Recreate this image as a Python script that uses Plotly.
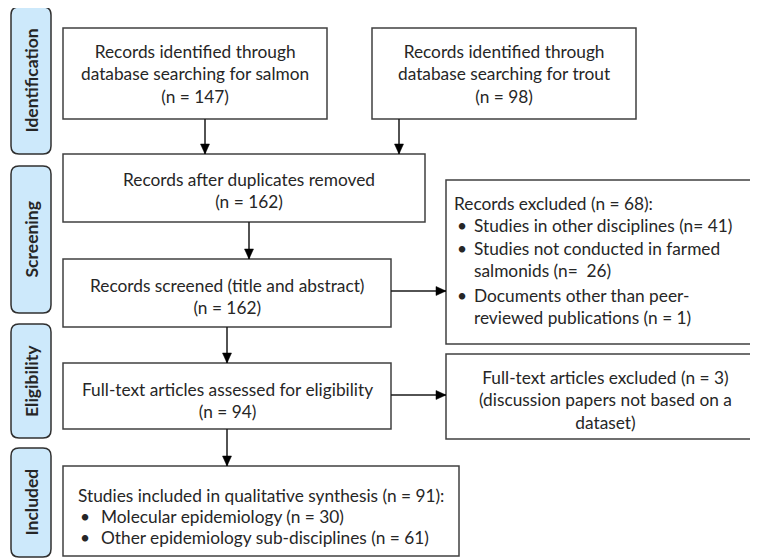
import plotly.graph_objects as go

W, H = 758, 559
OFF = 8  # page body margin, so data coordinates equal window pixels

# ---- data (stages and counts) ----
stages = ["Identification", "Screening", "Eligibility", "Included"]
n_salmon = 147
n_trout = 98
n_after_dupes = 162
n_screened = 162
n_excluded_screen = 68
excl_reasons = ["Studies in other disciplines", "Studies not conducted in farmed salmonids",
                "Documents other than peer-reviewed publications"]
excl_counts = [41, 26, 1]
n_fulltext = 94
n_fulltext_excl = 3
n_included = 91
incl_groups = ["Molecular epidemiology", "Other epidemiology sub-disciplines"]
incl_counts = [30, 61]

FONT = "Lato"
FS = 17.3
TXT = "#262626"
BORDER = "#404040"

shapes = []
annos = []

def box(x0, y0, x1, y1):
    shapes.append(dict(type="rect", x0=x0, y0=y0, x1=x1, y1=y1,
                       line=dict(color=BORDER, width=1.5), fillcolor="white", layer="below"))

def rbox(x0, y0, x1, y1, r=8):
    p = (f"M{x0+r},{y0} L{x1-r},{y0} Q{x1},{y0} {x1},{y0+r} L{x1},{y1-r} Q{x1},{y1} {x1-r},{y1} "
         f"L{x0+r},{y1} Q{x0},{y1} {x0},{y1-r} L{x0},{y0+r} Q{x0},{y0} {x0+r},{y0} Z")
    shapes.append(dict(type="path", path=p, line=dict(color="#303030", width=1.5),
                       fillcolor="#cde9fb", layer="below"))

def arrow(x0, y0, x1, y1):
    shapes.append(dict(type="line", x0=x0, y0=y0, x1=x1, y1=y1,
                       line=dict(color="#1a1a1a", width=1.5)))
    L, hw = 10, 4.5
    if x0 == x1:  # vertical, pointing down
        p = f"M{x1},{y1} L{x1-hw},{y1-L} L{x1+hw},{y1-L} Z"
    else:  # horizontal, pointing right
        p = f"M{x1},{y1} L{x1-L},{y1-hw} L{x1-L},{y1+hw} Z"
    shapes.append(dict(type="path", path=p, line=dict(color="black", width=0.5),
                       fillcolor="black"))

def text(x, y, s, anchor="center", size=FS, bold=False, angle=0):
    annos.append(dict(x=x, y=y, xref="x", yref="y", text=(f"<b>{s}</b>" if bold else s),
                      showarrow=False, xanchor=anchor, yanchor="middle",
                      align=anchor if anchor != "center" else "center",
                      textangle=angle, font=dict(family=FONT, size=size, color=TXT)))

# ---- stage labels ----
stage_spans = [(7, 154), (166, 313), (324, 438), (448, 557)]
for name, (a, b) in zip(stages, stage_spans):
    rbox(11, a, 51, b)
    text(31, (a + b) / 2, name, size=17.5, bold=True, angle=-90)

# ---- boxes ----
box(63, 28, 327, 119)
text(195, 74, f"Records identified through<br>database searching for salmon<br>(n = {n_salmon})")
box(372, 28, 636, 119)
text(504, 74, f"Records identified through<br>database searching for trout<br>(n = {n_trout})")

box(63, 154, 425, 222)
text(249, 190, f"Records after duplicates removed<br>(n = {n_after_dupes})")

box(63, 259, 391, 327)
text(227, 296, f"Records screened (title and abstract)<br>(n = {n_screened})")

box(446, 180, 775, 344)
ex_lines_y = [203, 225, 248, 270, 295, 317]
text(452, ex_lines_y[0], f"Records excluded (n = {n_excluded_screen}):", anchor="left")
wrapped = [
    [f"{excl_reasons[0]} (n= {excl_counts[0]})"],
    ["Studies not conducted in farmed", f"salmonids (n=  {excl_counts[1]})"],
    ["Documents other than peer-", f"reviewed publications (n = {excl_counts[2]})"],
]
k = 1
for grp in wrapped:
    text(455, ex_lines_y[k], "•", anchor="left")
    for ln in grp:
        text(472, ex_lines_y[k], ln, anchor="left")
        k += 1

box(63, 363, 391, 429)
text(227, 400, f"Full-text articles assessed for eligibility<br>(n = {n_fulltext})")

box(446, 354, 775, 439)
text(605, 400, f"Full-text articles excluded (n = {n_fulltext_excl})<br>(discussion papers not based on a<br>dataset)")

box(63, 466, 459, 556)
text(76, 495, f"Studies included in qualitative synthesis (n = {n_included}):", anchor="left")
for i, (g, c) in enumerate(zip(incl_groups, incl_counts)):
    yy = 516 + 21 * i
    text(78, yy, "•", anchor="left")
    text(99, yy, f"{g} (n = {c})", anchor="left")

# ---- arrows ----
arrow(205, 119, 205, 154)
arrow(399, 119, 399, 154)
arrow(249, 222, 249, 259)
arrow(227, 327, 227, 363)
arrow(227, 429, 227, 466)
arrow(391, 291, 446, 291)
arrow(391, 395, 446, 395)

fig = go.Figure()
fig.update_layout(
    width=W, height=H, margin=dict(l=0, r=0, t=0, b=0),
    paper_bgcolor="white", plot_bgcolor="white",
    xaxis=dict(range=[OFF, W + OFF], visible=False, fixedrange=True),
    yaxis=dict(range=[H + OFF, OFF], visible=False, fixedrange=True),
    shapes=shapes, annotations=annos, showlegend=False,
)
fig.write_html("out.html")
